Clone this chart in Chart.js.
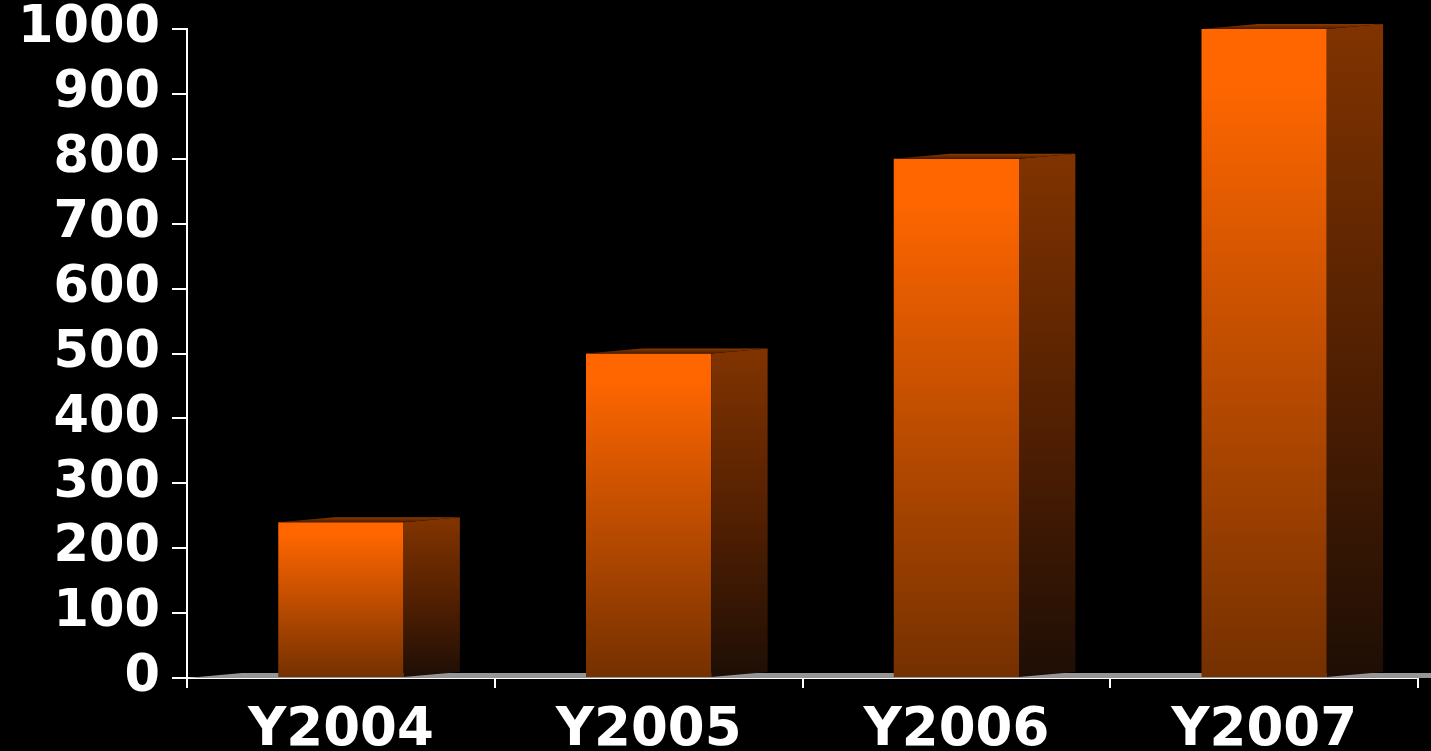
<!DOCTYPE html>
<html>
<head>
<meta charset="utf-8">
<script src="https://cdn.jsdelivr.net/npm/chart.js@4"></script>
<style>
  html, body { margin: 0; padding: 0; background: #000; }
  #wrap { width: 1431px; height: 751px; }
</style>
</head>
<body>
<div id="wrap"><canvas id="c" width="1431" height="751"></canvas></div>
<script>
const categories = ['Y2004', 'Y2005', 'Y2006', 'Y2007'];
const values = [240, 500, 800, 1000];
const yMin = 0, yMax = 1000, yStep = 100;

const depthPlugin = {
  id: 'depth3d',
  beforeDatasetsDraw(chart) {
    const ctx = chart.ctx;
    const a = chart.chartArea;
    const dx = 55, dy = 5;
    ctx.save();
    ctx.fillStyle = '#959595';
    ctx.beginPath();
    ctx.moveTo(a.left, a.bottom);
    ctx.lineTo(a.left + dx, a.bottom - dy);
    ctx.lineTo(chart.width + dx, a.bottom - dy);
    ctx.lineTo(chart.width, a.bottom);
    ctx.closePath();
    ctx.fill();
    ctx.restore();
  },
  afterDatasetsDraw(chart) {
    const ctx = chart.ctx;
    const meta = chart.getDatasetMeta(0);
    ctx.save();
    meta.data.forEach(bar => {
      const w = bar.width;
      const left = bar.x - w / 2, right = bar.x + w / 2;
      const top = bar.y, base = bar.base;
      const dx = w * 0.45, dy = 5;
      const gs = ctx.createLinearGradient(0, top, 0, base);
      gs.addColorStop(0, '#803300');
      gs.addColorStop(0.55, '#4e1e02');
      gs.addColorStop(1, '#1e0e05');
      ctx.fillStyle = gs;
      ctx.beginPath();
      ctx.moveTo(right, top);
      ctx.lineTo(right + dx, top - dy);
      ctx.lineTo(right + dx, base - dy);
      ctx.lineTo(right, base);
      ctx.closePath();
      ctx.fill();
      const gt = ctx.createLinearGradient(0, top, 0, top - dy);
      gt.addColorStop(0, '#4a1d00');
      gt.addColorStop(1, '#8c3a00');
      ctx.fillStyle = gt;
      ctx.beginPath();
      ctx.moveTo(left, top);
      ctx.lineTo(left + dx, top - dy);
      ctx.lineTo(right + dx, top - dy);
      ctx.lineTo(right, top);
      ctx.closePath();
      ctx.fill();
    });
    ctx.restore();
  }
};

new Chart(document.getElementById('c'), {
  type: 'bar',
  data: {
    labels: categories,
    datasets: [{
      data: values,
      borderWidth: 0,
      barPercentage: 1,
      categoryPercentage: 0.407,
      backgroundColor(context) {
        const chart = context.chart;
        if (!chart.chartArea) return '#FF6600';
        const ys = chart.scales.y;
        const top = ys.getPixelForValue(context.raw);
        const base = ys.getPixelForValue(0);
        const g = chart.ctx.createLinearGradient(0, top, 0, base);
        g.addColorStop(0, '#FF6600');
        g.addColorStop(0.08, '#FF6600');
        g.addColorStop(1, '#743000');
        return g;
      }
    }]
  },
  options: {
    responsive: false,
    animation: false,
    devicePixelRatio: 1,
    layout: { padding: { top: 29, right: 13, left: 0, bottom: 0 } },
    plugins: { legend: { display: false }, tooltip: { enabled: false } },
    scales: {
      x: {
        afterFit(scale) { scale.height = 73; scale.paddingLeft = 0; scale.paddingRight = 0; },
        border: { display: true, color: '#ffffff', width: 2 },
        grid: { display: true, drawOnChartArea: false, drawTicks: true, tickLength: 10, color: '#ffffff', lineWidth: 2 },
        ticks: { color: '#ffffff', padding: 17, font: { family: 'DejaVu Sans', weight: 'bold', size: 53, lineHeight: 1 } }
      },
      y: {
        min: yMin, max: yMax,
        afterFit(scale) { scale.width = 187; scale.paddingTop = 0; scale.paddingBottom = 0; },
        border: { display: true, color: '#ffffff', width: 2 },
        grid: { display: true, drawOnChartArea: false, drawTicks: true, tickLength: 15, color: '#ffffff', lineWidth: 2 },
        ticks: {
          stepSize: yStep, color: '#ffffff', padding: 12,
          callback: v => String(v),
          font: { family: 'DejaVu Sans', weight: 'bold', size: 51, lineHeight: 1 }
        }
      }
    }
  },
  plugins: [depthPlugin]
});
</script>
</body>
</html>
